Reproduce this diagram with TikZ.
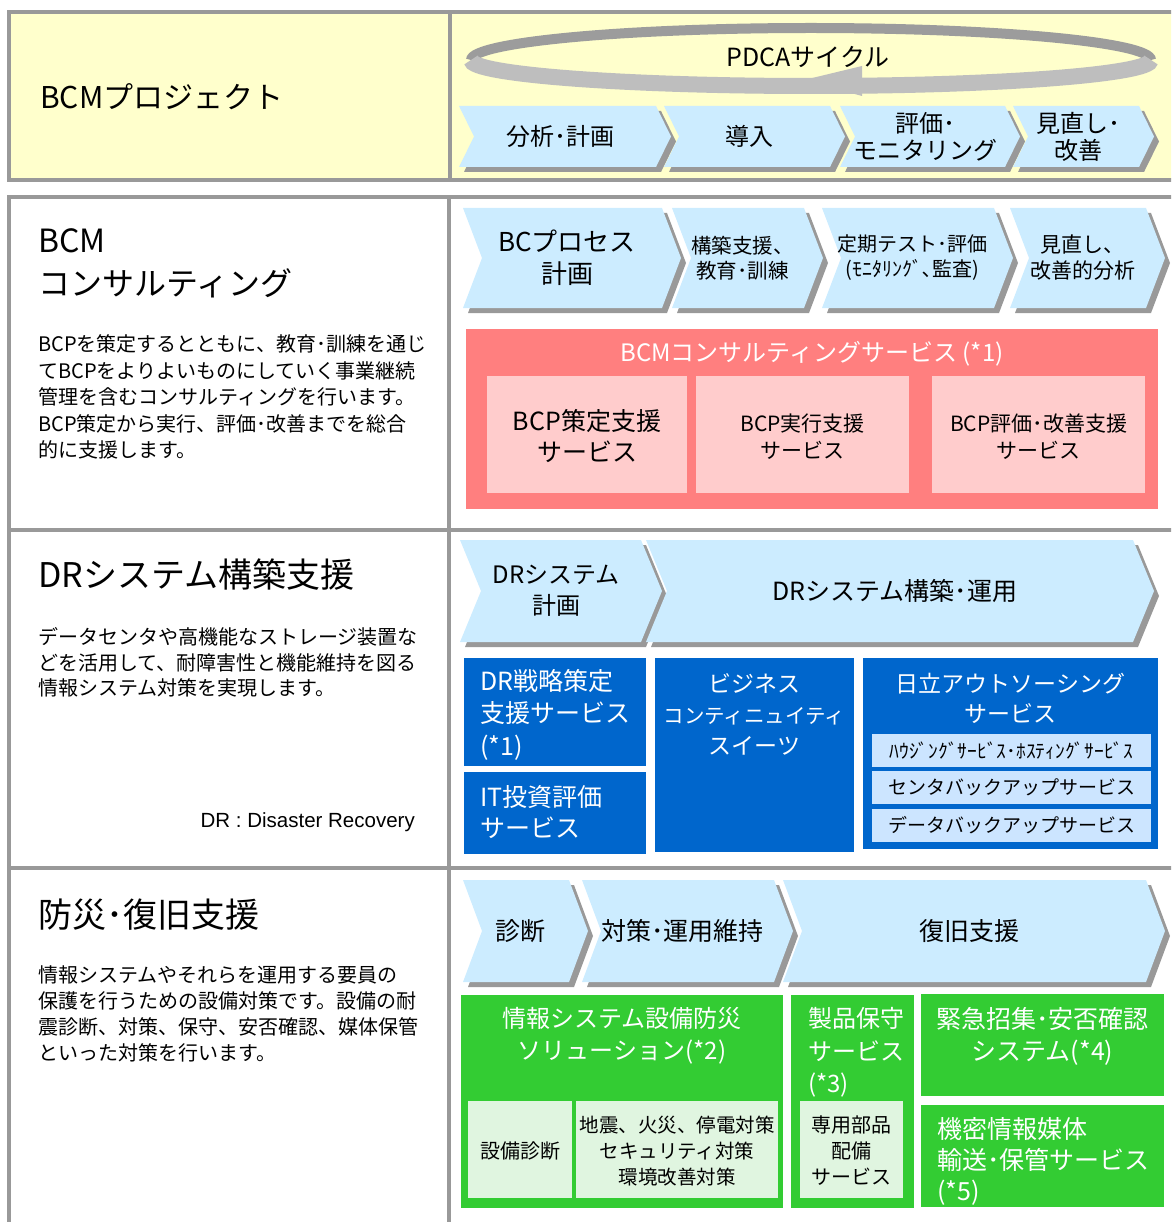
\documentclass[tikz,border=0pt]{standalone}
\usepackage{fontspec}
\setmainfont{Noto Sans CJK JP}
\newfontfamily\latinfont{Liberation Sans}
\usetikzlibrary{positioning,fit}

\definecolor{framegray}{HTML}{999999}
\definecolor{hdryellow}{HTML}{FFFFCC}
\definecolor{chevblue}{HTML}{CCECFF}
\definecolor{shadegray}{HTML}{999999}
\definecolor{ringdark}{HTML}{9C9C9C}
\definecolor{ringlight}{HTML}{BEBEBE}
\definecolor{pinkdark}{HTML}{FF7F7F}
\definecolor{pinklight}{HTML}{FFCCCC}
\definecolor{bluedark}{HTML}{0066CC}
\definecolor{bluelight}{HTML}{CCE5FF}
\definecolor{greendark}{HTML}{33CC33}
\definecolor{greenlight}{HTML}{E0F5E0}

\newcommand{\fsz}[2]{\fontsize{#1}{#2}\selectfont}

\tikzset{
  frame/.style={draw=framegray, line width=4pt},
  box/.style={inner sep=0pt, outer sep=0pt},
  chevtext/.style={align=center, inner sep=0pt, font=\fsz{24}{27}},
  lbl/.style={align=left, inner sep=0pt, anchor=west},
  clbl/.style={align=center, inner sep=0pt},
  headfont/.style={font=\fsz{34}{43}},
  parafont/.style={font=\fsz{20}{26.5}},
}

% chevron: [text opts]{name}{notch}{x0}{y0}{x1}{y1}{text}
\newcommand{\chev}[8][]{%
  \fill[shadegray, shift={(5,5)}] (#4,#5) -- ({#6-#3},#5) -- (#6,{(#5+#7)/2})
    -- ({#6-#3},#7) -- (#4,#7) -- ({#4+#3},{(#5+#7)/2}) -- cycle;
  \fill[chevblue] (#4,#5) -- ({#6-#3},#5) -- (#6,{(#5+#7)/2})
    -- ({#6-#3},#7) -- (#4,#7) -- ({#4+#3},{(#5+#7)/2}) -- cycle;
  \node[chevtext,#1] (#2) at ({(#4+#6)/2-5},{(#5+#7)/2}) {#8};
}

\begin{document}
\begin{tikzpicture}[x=1pt, y=-1pt]
\useasboundingbox (0,0) rectangle (1171,1222);
\clip (0,0) rectangle (1171,1222);

% Table frame
\fill[hdryellow] (9,12) rectangle (1175,180);
\draw[frame] (1175,12) -- (9,12) -- (9,180) -- (1175,180);
\draw[frame] (450,12) -- (450,180);
\draw[frame] (1175,197) -- (9,197) -- (9,1230);
\draw[frame] (9,530) -- (1175,530);
\draw[frame] (9,868) -- (1175,868);
\draw[frame] (449,197) -- (449,1230);

% Header row
\node[lbl, font=\fsz{30}{36}] (hdrtitle) at (40,97) {BCMプロジェクト};
\draw[ringdark, line width=10pt] (471,60) arc[start angle=180, end angle=360, x radius=340, y radius=32];
\node[clbl, font=\fsz{25}{30}] (pdca) at (808,57) {PDCAサイクル};
\draw[ringlight, line width=16pt] (471,60) arc[start angle=180, end angle=0, x radius=340, y radius=26];
\fill[ringlight] (804,80) -- (862,66) -- (862,96) -- cycle;

\chev{hc1}{15}{459}{106}{671}{167}{分析･計画}
\chev{hc2}{15}{664}{106}{845}{167}{導入}
\chev{hc3}{15}{840}{106}{1020}{167}{評価･\\モニタリング}
\chev{hc4}{15}{1013}{106}{1154}{167}{見直し･\\改善}

% BCM consulting
\node[lbl, font=\fsz{32}{43}] (bcmhead) at (38,263.5) {BCM\\コンサルティング};
\node[lbl, parafont] (bcmpara) at (38,397) {BCPを策定するとともに、教育･訓練を通じ\\てBCPをよりよいものにしていく事業継続\\管理を含むコンサルティングを行います。\\BCP策定から実行、評価･改善までを総合\\的に支援します。};

\chev[font=\fsz{26}{32}]{rc1}{19}{463}{208}{681}{308}{BCプロセス\\計画}
\chev[font=\fsz{20.5}{25}]{rc2}{19}{672}{208}{823}{308}{構築支援、\\教育･訓練}
\chev[font=\fsz{20}{25}]{rc3}{19}{822}{208}{1013}{308}{定期テスト･評価\\(ﾓﾆﾀﾘﾝｸﾞ､監査)}
\chev[font=\fsz{21}{26}]{rc4}{19}{1010}{208}{1165}{308}{見直し、\\改善的分析}

\node[box, fill=pinkdark, fit={(466,329) (1158,509)}] (bcmsvc) {};
\node[clbl, white, font=\fsz{24}{30}] (bcmsvct) at (812,354) {BCMコンサルティングサービス (*1)};
\node[box, fill=pinklight, fit={(487,376) (687,493)}] (bcpplan) {};
\node[clbl, font=\fsz{25}{31}] (bcpplant) at (587,436.5) {BCP策定支援\\サービス};
\node[box, fill=pinklight, fit={(696,376) (909,493)}] (bcpexec) {};
\node[clbl, font=\fsz{21}{27}] (bcpexect) at (802.5,436.5) {BCP実行支援\\サービス};
\node[box, fill=pinklight, fit={(932,376) (1145,493)}] (bcpeval) {};
\node[clbl, font=\fsz{21}{27}] (bcpevalt) at (1038.5,436.5) {BCP評価･改善支援\\サービス};

% DR system
\node[lbl, headfont] (drhead) at (38,575) {DRシステム構築支援};
\node[lbl, font=\fsz{20}{25.5}] (drpara) at (38,662.5) {データセンタや高機能なストレージ装置な\\どを活用して、耐障害性と機能維持を図る\\情報システム対策を実現します。};
\node[clbl, anchor=east, font=\latinfont\fsz{20.5}{24}] (drnote) at (415,822) {DR : Disaster Recovery};

\chev[font=\fsz{24}{31}]{dc1}{21}{460}{540}{662}{642}{DRシステム\\計画}
\chev[font=\fsz{25}{31}]{dc2}{21}{646}{540}{1154}{642}{DRシステム構築･運用}

\node[box, fill=bluedark, fit={(464,658) (646,766)}] (drstrat) {};
\node[lbl, white, font=\fsz{25}{32.5}] (drstratt) at (480,714.5) {DR戦略策定\\支援サービス\\(*1)};
\node[box, fill=bluedark, fit={(464,772) (646,854)}] (itinv) {};
\node[lbl, white, font=\fsz{25}{31}] (itinvt) at (480,812.5) {IT投資評価\\サービス};
\node[box, fill=bluedark, fit={(655,658) (854,852)}] (bcsuite) {};
\node[clbl, white, font=\fsz{23}{31}] (bcsuitet) at (754.5,714) {ビジネス\\{\fsz{20.5}{31}コンティニュイティ}\\スイーツ};
\node[box, fill=bluedark, fit={(863,658) (1158,849)}] (outsrc) {};
\node[clbl, white, font=\fsz{23}{30}] (outsrct) at (1010.5,698) {日立アウトソーシング\\サービス};
\node[box, fill=bluelight, fit={(872,734) (1151,767)}] (housing) {};
\node[clbl, font=\fsz{19.5}{24}] (housingt) at (housing.center) {ﾊｳｼﾞﾝｸﾞｻｰﾋﾞｽ･ﾎｽﾃｨﾝｸﾞｻｰﾋﾞｽ};
\node[box, fill=bluelight, fit={(872,771) (1151,804)}] (ctrbk) {};
\node[clbl, font=\fsz{19}{24}] (ctrbkt) at (ctrbk.center) {センタバックアップサービス};
\node[box, fill=bluelight, fit={(872,809) (1151,842)}] (databk) {};
\node[clbl, font=\fsz{19}{24}] (databkt) at (databk.center) {データバックアップサービス};

% Disaster prevention and recovery
\node[lbl, headfont] (bshead) at (38,915) {防災･復旧支援};
\node[lbl, font=\fsz{20}{26}] (bspara) at (38,1014) {情報システムやそれらを運用する要員の\\保護を行うための設備対策です。設備の耐\\震診断、対策、保守、安否確認、媒体保管\\といった対策を行います。};

\chev[font=\fsz{25}{31}]{pc1}{19}{463}{880}{588}{982}{診断}
\chev[font=\fsz{25}{31}]{pc2}{19}{582}{880}{793}{982}{対策･運用維持}
\chev[font=\fsz{25}{31}]{pc3}{19}{783}{880}{1165}{982}{復旧支援}

\node[box, fill=greendark, fit={(461,995) (783,1208)}] (infosol) {};
\node[clbl, white, font=\fsz{24}{32}] (infosolt) at (622,1036) {情報システム設備防災\\ソリューション(*2)};
\node[box, fill=greenlight, fit={(468,1101) (572,1198)}] (setsu) {};
\node[clbl, font=\fsz{20}{26}] (setsut) at (520,1151) {設備診断};
\node[box, fill=greenlight, fit={(576,1101) (778,1198)}] (jishin) {};
\node[clbl, font=\fsz{19.5}{26}] (jishint) at (677,1151) {地震、火災、停電対策\\セキュリティ対策\\環境改善対策};
\node[box, fill=greendark, fit={(791,995) (914,1208)}] (prodmaint) {};
\node[lbl, white, font=\fsz{24}{32.5}] (prodmaintt) at (808,1052.5) {製品保守\\サービス\\(*3)};
\node[box, fill=greenlight, fit={(800,1101) (903,1198)}] (parts) {};
\node[clbl, font=\fsz{20}{26}] (partst) at (851.5,1151) {専用部品\\配備\\サービス};
\node[box, fill=greendark, fit={(921,994) (1164,1096)}] (emerg) {};
\node[clbl, white, font=\fsz{25}{32}] (emergt) at (1042.5,1036) {緊急招集･安否確認\\システム(*4)};
\node[box, fill=greendark, fit={(921,1105) (1164,1207)}] (media) {};
\node[lbl, white, font=\fsz{25}{31}] (mediat) at (937,1161) {機密情報媒体\\輸送･保管サービス\\(*5)};
\end{tikzpicture}
\end{document}
